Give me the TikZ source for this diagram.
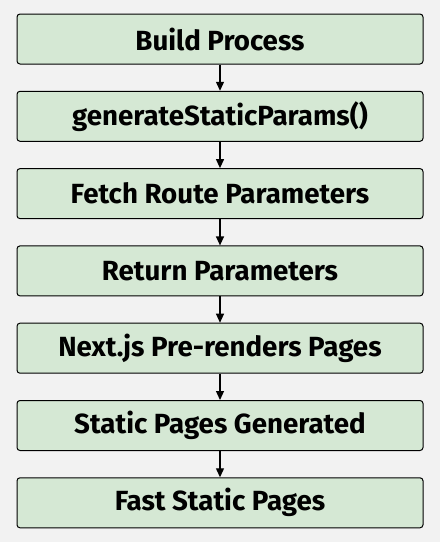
\documentclass[tikz,border=0pt]{standalone}
\usepackage{fontspec}
\setmainfont{Fira Sans}
\usetikzlibrary{arrows.meta}
\definecolor{bg}{HTML}{F2F2F2}
\definecolor{boxfill}{HTML}{D5E8D4}
\begin{document}
\begin{tikzpicture}[x=1pt,y=-1pt,
  stepbox/.style={draw=black, fill=boxfill, rounded corners=3pt, line width=1pt,
    minimum width=406pt, minimum height=50pt, inner sep=0pt,
    font=\fontsize{27.7}{32}\selectfont\bfseries},
  conn/.style={draw=black, line width=1.2pt, -{Triangle[length=9pt,width=8pt]}}]
\fill[bg] (0,0) rectangle (440,542);
\useasboundingbox (0,0) rectangle (440,542);
\node[stepbox] (n1) at (220,39) {Build Process};
\node[stepbox] (n2) at (220,116.3) {generateStaticParams()};
\node[stepbox] (n3) at (220,193.6) {Fetch Route Parameters};
\node[stepbox] (n4) at (220,270.9) {Return Parameters};
\node[stepbox] (n5) at (220,348.2) {Next.js Pre-renders Pages};
\node[stepbox] (n6) at (220,425.5) {Static Pages Generated};
\node[stepbox] (n7) at (220,502.8) {Fast Static Pages};
\draw[conn] (n1) -- (n2);
\draw[conn] (n2) -- (n3);
\draw[conn] (n3) -- (n4);
\draw[conn] (n4) -- (n5);
\draw[conn] (n5) -- (n6);
\draw[conn] (n6) -- (n7);
\end{tikzpicture}
\end{document}
